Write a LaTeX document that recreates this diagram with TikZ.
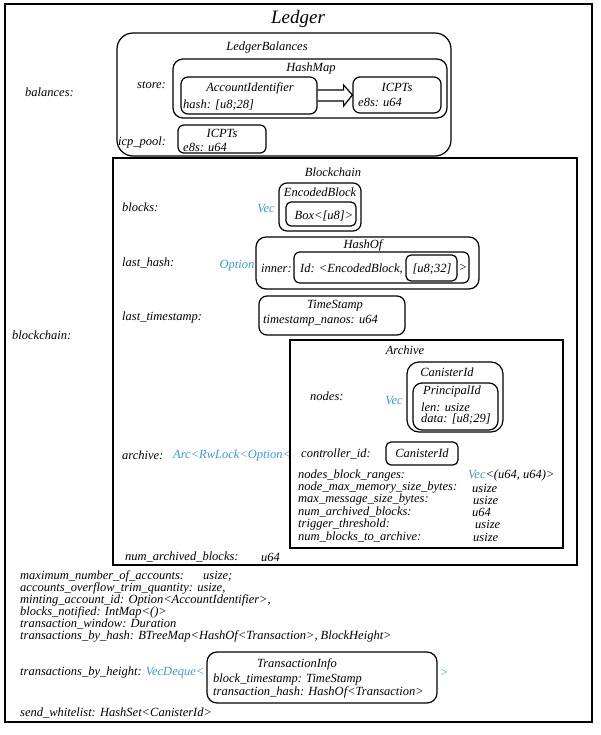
\documentclass[tikz,border=0pt]{standalone}
\usepackage{fontspec}
\setmainfont{Liberation Serif}
\usetikzlibrary{fit}
\definecolor{typeblue}{RGB}{62,152,204}
\newcommand\lf{\fontsize{12.5}{14}\selectfont\itshape}
\tikzset{
  box/.style={draw, line width=1.2pt, inner sep=0pt},
  rbox/.style={box, rounded corners=#1},
  rbox/.default=7pt,
  lbl/.style={font=\lf, inner sep=0pt, anchor=west},
  ttl/.style={font=\lf, inner sep=0pt},
  typ/.style={lbl, text=typeblue},
}
\begin{document}
\begin{tikzpicture}[x=1pt, y=-1pt]
\useasboundingbox (0,0) rectangle (600,735);
% outer frame
\node[box, fit={(5,4) (592,722)}] (ledger) {};
\node[ttl, font=\fontsize{19}{22}\selectfont\itshape] (ledgertitle) at (298,19) {Ledger};

% balances
\node[lbl] (balances) at (25,92) {balances:};
\node[rbox=16pt, fit={(117,33) (451,156)}] (lb) {};
\node[ttl] (lbtitle) at (267,47) {LedgerBalances};
\node[rbox=10pt, fit={(173,59) (447,118)}] (hashmap) {};
\node[ttl] (hashmaptitle) at (311,68) {HashMap};
\node[lbl] (store) at (137,85) {store:};
\node[rbox, fit={(181,77) (317,114)}] (accid) {};
\node[ttl] (accidtitle) at (250,88) {AccountIdentifier};
\node[lbl] (accidhash) at (183,105) {hash: [u8;28]};
\node[rbox, fit={(353,77) (441,113)}] (icpts) {};
\node[ttl] (icptstitle) at (397,87) {ICPTs};
\node[lbl] (icptse8s) at (358,102) {e8s: u64};
% hollow arrow from key to value
\path (accid.east) ++(26,0) coordinate (headbase);
\draw[line width=1.2pt, line join=miter]
  ([yshift=5.5pt]accid.east) -- ([yshift=5.5pt]headbase) -- ([yshift=10.5pt]headbase)
  -- (icpts.west) -- ([yshift=-10.5pt]headbase) -- ([yshift=-5.5pt]headbase)
  -- ([yshift=-5.5pt]accid.east);
\node[lbl] (icppool) at (118,142) {icp\_pool:};
\node[rbox=6pt, fit={(178,125) (266,153)}] (pool) {};
\node[ttl] (pooltitle) at (222,133) {ICPTs};
\node[lbl] (poole8s) at (183,147) {e8s: u64};

% blockchain
\node[lbl] (blockchain) at (12,335) {blockchain:};
\node[box, fit={(113,158) (577,565)}] (bc) {};
\node[ttl] (bctitle) at (333,172) {Blockchain};
\node[lbl] (blocks) at (122,207) {blocks:};
\node[typ, anchor=center] (blocksvec) at (266,209) {Vec};
\node[rbox=8pt, fit={(279,183) (361,231)}] (enc) {};
\node[ttl] (enctitle) at (320,192) {EncodedBlock};
\node[rbox=5pt, fit={(286,202) (356,226)}] (encbox) {};
\node[ttl] (encboxtext) at (324,216) {Box<[u8]>};
\node[lbl] (lasthash) at (122,263) {last\_hash:};
\node[typ, anchor=center] (hashopt) at (237,266) {Option};
\node[rbox=10pt, fit={(256,237) (479,289)}] (hashof) {};
\node[ttl] (hashoftitle) at (363,245) {HashOf};
\node[lbl] (inner) at (261,268) {inner:};
\node[rbox=6pt, fit={(294,252) (469,283)}] (idbox) {};
\node[lbl] (idtext) at (300,269) {Id: <EncodedBlock,};
\node[rbox=5pt, fit={(406,255) (457,281)}] (u832) {};
\node[ttl] (u832text) at (432,269) {[u8;32]};
\node[ttl] (idclose) at (463,268) {>};
\node[lbl] (lastts) at (122,317) {last\_timestamp:};
\node[rbox=8pt, fit={(259,296) (405,335)}] (ts) {};
\node[ttl] (tstitle) at (335,306) {TimeStamp};
\node[lbl] (tsnanos) at (263,321) {timestamp\_nanos: u64};

% archive
\node[lbl] (archive) at (122,455) {archive:};
\node[typ] (archivetype) at (173,455) {Arc<RwLock<Option<};
\node[box, fit={(290,340) (563,548)}] (arch) {};
\node[ttl] (archtitle) at (405,350) {Archive};
\node[lbl] (nodes) at (310,396) {nodes:};
\node[typ, anchor=center] (nodesvec) at (394,400) {Vec};
\node[rbox=12pt, fit={(407,362) (503,432)}] (canister) {};
\node[ttl] (canistertitle) at (447,372) {CanisterId};
\node[rbox=9pt, fit={(413,383) (498,430)}] (principal) {};
\node[ttl] (principaltitle) at (452,391) {PrincipalId};
\node[lbl] (plen) at (421,407) {len: usize};
\node[lbl] (pdata) at (421,419) {data: [u8;29]};
\node[lbl] (controller) at (301,454) {controller\_id:};
\node[rbox=5pt, fit={(386,442) (458,465)}] (ctrlbox) {};
\node[ttl] (ctrltext) at (422,453) {CanisterId};
\node[lbl] (ranges) at (298,475) {nodes\_block\_ranges:};
\node[lbl] (rangestype) at (468,475) {\textcolor{typeblue}{Vec}<(u64, u64)>};
\node[lbl] (maxmem) at (298,488) {node\_max\_memory\_size\_bytes:};
\node[lbl] (maxmemtype) at (472,488) {usize};
\node[lbl] (maxmsg) at (298,500) {max\_message\_size\_bytes:};
\node[lbl] (maxmsgtype) at (473,500) {usize};
\node[lbl] (archnum) at (298,512) {num\_archived\_blocks:};
\node[lbl] (archnumtype) at (472,512) {u64};
\node[lbl] (trigger) at (298,524) {trigger\_threshold:};
\node[lbl] (triggertype) at (475,524) {usize};
\node[lbl] (toarch) at (298,537) {num\_blocks\_to\_archive:};
\node[lbl] (toarchtype) at (473,537) {usize};
\node[lbl] (bcnum) at (125,557) {num\_archived\_blocks:};
\node[lbl] (bcnumtype) at (261,557) {u64};

% remaining fields
\node[lbl] (maxacc) at (20,576) {maximum\_number\_of\_accounts:};
\node[lbl] (maxacctype) at (203,576) {usize;};
\node[lbl] (trim) at (20,588) {accounts\_overflow\_trim\_quantity: usize,};
\node[lbl] (minting) at (20,600) {minting\_account\_id: Option<AccountIdentifier>,};
\node[lbl] (notified) at (20,612) {blocks\_notified: IntMap<()>};
\node[lbl] (window) at (20,624) {transaction\_window: Duration};
\node[lbl] (byhash) at (20,636) {transactions\_by\_hash: BTreeMap<HashOf<Transaction>, BlockHeight>};
\node[lbl] (byheight) at (20,673) {transactions\_by\_height: \textcolor{typeblue}{VecDeque<}};
\node[rbox=10pt, fit={(207,652) (437,703)}] (txinfo) {};
\node[ttl] (txinfotitle) at (297,664) {TransactionInfo};
\node[lbl] (txts) at (213,679) {block\_timestamp: TimeStamp};
\node[lbl] (txhash) at (213,692) {transaction\_hash: HashOf<Transaction>};
\node[typ] (byheightclose) at (440,673) {>};
\node[lbl] (whitelist) at (20,713) {send\_whitelist: HashSet<CanisterId>};
\end{tikzpicture}
\end{document}
